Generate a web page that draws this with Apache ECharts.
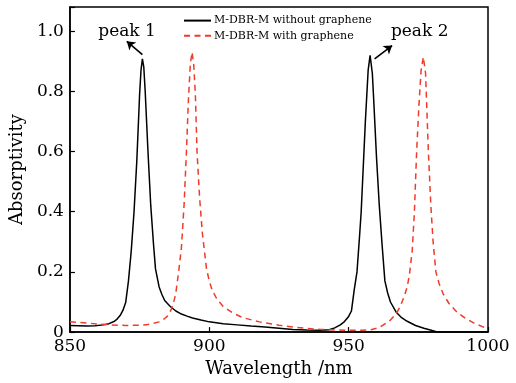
<!DOCTYPE html>
<html>
<head>
<meta charset="utf-8">
<script src="https://cdn.jsdelivr.net/npm/echarts@6/dist/echarts.min.js"></script>
<style>html,body{margin:0;padding:0;background:#fff}#c{width:516px;height:383px}</style>
</head>
<body>
<div id="c"></div>
<script>
var seriesNames = ['M-DBR-M without graphene', 'M-DBR-M with graphene'];
var xTicks = [850, 900, 950, 1000];
var yTicks = [0, 0.2, 0.4, 0.6, 0.8, 1.0];

var blackX = [850,853,856,859,862,864,866,867,868,869,870,871,872,873,874,875,875.5,876,876.5,877,878,879,880,880.7,882,883,884,885,886,888,890,892,894,897,900,905,910,915,920,925,930,935,940,943,945,947,948.5,950,951,952,953,954,954.5,955.5,956,957,957.7,958.5,959,960,961,962,963,964,965,967,969,971,974,977,980,982,990,1000];
var blackY = [0.022,0.021,0.020,0.021,0.024,0.028,0.036,0.044,0.055,0.072,0.098,0.17,0.27,0.40,0.57,0.79,0.87,0.908,0.88,0.80,0.60,0.42,0.29,0.21,0.15,0.125,0.105,0.095,0.085,0.07,0.06,0.053,0.047,0.04,0.034,0.028,0.024,0.02,0.017,0.013,0.009,0.007,0.006,0.008,0.014,0.024,0.035,0.052,0.07,0.14,0.20,0.33,0.40,0.60,0.70,0.87,0.919,0.86,0.77,0.58,0.42,0.29,0.17,0.13,0.10,0.067,0.048,0.036,0.022,0.013,0.005,0.0,0.0,0.0];

var redX = [850,855,860,865,870,875,878,880,882,884,885,886,887,888,889,890,891,891.8,892.5,893.2,893.8,894.4,895,895.6,896.5,897.5,898.5,899,900,901,902.7,905,908.7,912,918,925,930,935,940,945,950,955,958,961,963,965,967,968.5,970,971,971.8,972.8,973.6,974.4,975.2,976,976.8,977.6,978.6,979.5,980.3,981.3,982.5,984,986,989,992,995,998,1000];
var redY = [0.034,0.031,0.027,0.024,0.022,0.023,0.025,0.029,0.034,0.045,0.053,0.068,0.09,0.13,0.20,0.28,0.43,0.60,0.77,0.89,0.93,0.89,0.79,0.60,0.45,0.33,0.25,0.21,0.17,0.14,0.11,0.085,0.062,0.048,0.034,0.023,0.017,0.012,0.009,0.007,0.006,0.006,0.008,0.015,0.027,0.04,0.06,0.085,0.12,0.15,0.19,0.27,0.40,0.60,0.75,0.87,0.914,0.86,0.60,0.42,0.30,0.20,0.16,0.125,0.095,0.065,0.045,0.03,0.018,0.012];

// annotations
var peakLabels = ['peak 1', 'peak 2'];
var peakTextPos = [[870.5, 1.0], [975.5, 1.0]];
var peakArrowFrom = [[876.0, 0.922], [959.3, 0.908]];
var peakArrowTo = [[870.4, 0.966], [965.6, 0.952]];

function zip(a, b) { return a.map(function (v, i) { return [v, b[i]]; }); }

var FONT = 'DejaVu Serif';
var chart = echarts.init(document.getElementById('c'));
chart.setOption({
  animation: false,
  backgroundColor: '#fff',
  grid: { left: 69, right: 28, top: 7, bottom: 46, show: true, borderColor: '#000', borderWidth: 1.5, backgroundColor: 'transparent' },
  legend: {
    left: 183, top: 15, orient: 'vertical', align: 'left', padding: 0,
    itemWidth: 27, itemHeight: 14, itemGap: 4,
    itemStyle: { opacity: 0 },
    textStyle: { fontFamily: FONT, fontSize: 11, color: '#000', padding: [0, 0, 0, -2] },
    data: seriesNames
  },
  xAxis: {
    type: 'value', min: 850, max: 1000, interval: 50,
    name: 'Wavelength /nm', nameLocation: 'middle', nameGap: 26,
    nameTextStyle: { fontFamily: FONT, fontSize: 18, color: '#000' },
    axisLine: { show: true, lineStyle: { color: '#000', width: 1.5 } },
    axisTick: { show: true, inside: true, length: 5, lineStyle: { color: '#000', width: 1.2 } },
    axisLabel: { fontFamily: FONT, fontSize: 17, color: '#000', margin: 6,
      formatter: function (v) { return xTicks.indexOf(v) >= 0 ? String(v) : ''; } },
    splitLine: { show: false }
  },
  yAxis: {
    type: 'value', min: 0, max: 1.08, interval: 0.2,
    name: 'Absorptivity', nameLocation: 'middle', nameGap: 40,
    nameTextStyle: { fontFamily: FONT, fontSize: 18, color: '#000' },
    axisLine: { show: true, lineStyle: { color: '#000', width: 1.5 } },
    axisTick: { show: true, inside: true, length: 5, lineStyle: { color: '#000', width: 1.2 } },
    axisLabel: { fontFamily: FONT, fontSize: 17, color: '#000', margin: 6,
      formatter: function (v) {
        for (var i = 0; i < yTicks.length; i++) {
          if (Math.abs(yTicks[i] - v) < 1e-6) return v === 0 ? '0' : yTicks[i].toFixed(1);
        }
        return '';
      } },
    splitLine: { show: false }
  },
  series: [
    {
      name: seriesNames[0], type: 'line', symbol: 'none', showSymbol: false, smooth: false,
      data: zip(blackX, blackY),
      lineStyle: { color: '#000', width: 1.5 },
      itemStyle: { color: '#000' },
      markLine: {
        silent: true, symbol: ['none', 'arrow'], symbolSize: 8,
        lineStyle: { color: '#000', width: 1.6, type: 'solid' },
        label: { show: false },
        data: peakArrowFrom.map(function (p, i) {
          return [{ coord: p }, { coord: peakArrowTo[i] }];
        })
      },
      markPoint: {
        silent: true, symbol: 'circle', symbolSize: 1,
        itemStyle: { color: 'rgba(0,0,0,0)' },
        label: { show: true, position: 'inside', fontFamily: FONT, fontSize: 17, color: '#000',
          formatter: function (p) { return p.name; } },
        data: peakLabels.map(function (t, i) { return { name: t, coord: peakTextPos[i] }; })
      }
    },
    {
      name: seriesNames[1], type: 'line', symbol: 'none', showSymbol: false, smooth: false,
      data: zip(redX, redY),
      lineStyle: { color: '#ee3b2a', width: 1.5, type: [6, 4.5] },
      itemStyle: { color: '#ee3b2a' }
    }
  ]
});
</script>
</body>
</html>
